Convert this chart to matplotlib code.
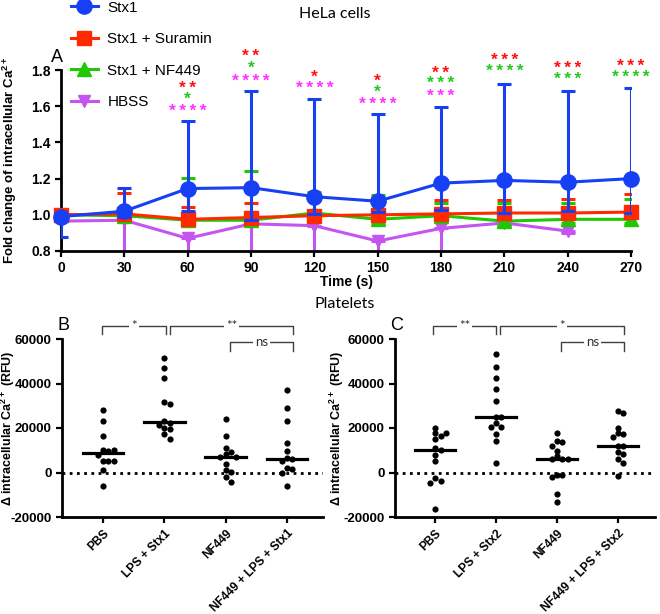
import numpy as np
import matplotlib
matplotlib.use('Agg')
import matplotlib.pyplot as plt

plt.rcParams['font.family'] = ['Liberation Sans', 'DejaVu Sans']
plt.rcParams['mathtext.fontset'] = 'custom'
plt.rcParams['mathtext.rm'] = 'Liberation Sans'
plt.rcParams['mathtext.bf'] = 'Liberation Sans:bold'
plt.rcParams['axes.unicode_minus'] = False

# ---------------- Panel A data (HeLa cells) ----------------
time_s = [0, 30, 60, 90, 120, 150, 180, 210, 240, 270]

stx1_mean = [0.99, 1.02, 1.145, 1.15, 1.10, 1.075, 1.175, 1.19, 1.18, 1.20]
stx1_upper = [1.00, 1.15, 1.52, 1.685, 1.64, 1.555, 1.595, 1.725, 1.685, 1.70]
stx1_lower = [0.88, 0.99, 1.02, 0.97, 1.005, 1.013, 1.027, 1.01, 1.02, 1.01]

sur_mean = [1.00, 1.005, 0.975, 0.985, 0.995, 1.00, 1.005, 1.01, 1.01, 1.015]
sur_upper = [1.02, 1.12, 1.045, 1.065, 1.02, 1.094, 1.081, 1.081, 1.085, 1.117]
sur_lower = [0.98, 0.985, 0.955, 0.965, 0.975, 0.98, 0.985, 0.99, 0.99, 0.995]

nf_mean = [1.00, 0.995, 0.97, 0.97, 1.01, 0.975, 0.995, 0.965, 0.975, 0.975]
nf_upper = [1.02, 1.00, 1.205, 1.24, 1.125, 1.11, 1.063, 1.067, 1.063, 1.086]
nf_lower = [0.98, 0.975, 0.95, 0.95, 0.99, 0.955, 0.975, 0.945, 0.955, 0.955]

hbss_mean = [0.965, 0.97, 0.87, 0.95, 0.94, 0.855, 0.925, 0.955, 0.91, np.nan]
hbss_upper = [0.965, 0.97, 0.87, 0.95, 0.94, 0.855, 0.925, 0.955, 0.91, np.nan]
hbss_lower = [0.70, 0.70, 0.70, 0.70, 0.70, 0.70, 0.70, 0.94, 0.90, np.nan]

# significance stars: (time, y, number of stars, colour key)
stars = [
    (60, 1.70, 2, 'red'), (60, 1.64, 1, 'green'), (60, 1.568, 4, 'mag'),
    (90, 1.877, 2, 'red'), (90, 1.811, 1, 'green'), (90, 1.739, 4, 'mag'),
    (120, 1.761, 1, 'red'), (120, 1.70, 4, 'mag'),
    (150, 1.739, 1, 'red'), (150, 1.678, 1, 'green'), (150, 1.607, 4, 'mag'),
    (180, 1.783, 2, 'red'), (180, 1.723, 3, 'green'), (180, 1.651, 3, 'mag'),
    (210, 1.85, 3, 'red'), (210, 1.789, 4, 'green'),
    (240, 1.811, 3, 'red'), (240, 1.75, 3, 'green'),
    (270, 1.822, 3, 'red'), (270, 1.756, 4, 'green'),
]

# ---------------- Panel B / C data (platelets) ----------------
groups_b = ['PBS', 'LPS + Stx1', 'NF449', 'NF449 + LPS + Stx1']
b_pbs = [28000, 23300, 16600, 10000, 9500, 10000, 8000, 5300, 5300, 5000, 1300, -6000]
b_lps = [51300, 46800, 42300, 31800, 30800, 23300, 22100, 21400, 19900, 19400, 17200, 14900]
b_nf = [23900, 16400, 11100, 9200, 8300, 7100, 7000, 3800, 1300, 300, -2000, -4300]
b_nflps = [37100, 28800, 23100, 13100, 9800, 6500, 6000, 5300, 2100, 1600, 0, -6200]

groups_c = ['PBS', 'LPS + Stx2', 'NF449', 'NF449 + LPS + Stx2']
c_pbs = [20100, 17600, 17600, 16400, 14900, 10900, 10100, 7900, 5300, -2600, -3700, -4900, -16500]
c_lps = [53300, 47300, 42500, 37500, 32300, 25100, 24800, 22100, 20400, 20300, 17300, 14200, 4400]
c_nf = [17600, 14200, 13600, 12100, 9800, 7300, 6100, 6000, 5900, -1100, -1200, -2200, -9500, -13100]
c_nflps = [27800, 26900, 20100, 17600, 17200, 15800, 12000, 11700, 9000, 8300, 6000, 4400, -1600]

b_sig = [('*', -0.02, 1.03), ('**', 1.10, 3.10)]
c_sig = [('**', -0.04, 1.0), ('*', 1.07, 3.10)]
ns_span = (2.07, 3.10)

blue = '#1740F5'
red = '#FF2A00'
green = '#1FC800'
purple = '#C455EE'
star_cols = {'red': '#FF1010', 'green': '#22C81E', 'mag': '#FF33FF'}

fig = plt.figure(figsize=(6.6, 6.14), dpi=100)
W, H = 660.0, 614.0

# ---------------- Panel A ----------------
axA = fig.add_axes([61 / W, 1 - 251 / H, 570 / W, 181 / H])

series = [
    ('HBSS', hbss_mean, hbss_lower, hbss_upper, purple, 'v', 9, 2),
    ('Stx1 + NF449', nf_mean, nf_lower, nf_upper, green, '^', 10, 3),
    ('Stx1 + Suramin', sur_mean, sur_lower, sur_upper, red, 's', 9.5, 4),
    ('Stx1', stx1_mean, stx1_lower, stx1_upper, blue, 'o', 11, 5),
]
handles = {}
for name, m, lo, up, col, mk, ms, z in series:
    m = np.array(m, dtype=float)
    err = [m - np.array(lo, dtype=float), np.array(up, dtype=float) - m]
    axA.errorbar(time_s, m, yerr=err, fmt='none', ecolor=col, elinewidth=2.2,
                 capsize=5, capthick=2.2, zorder=z)
    ln, = axA.plot(time_s, m, color=col, lw=2.2, marker=mk, ms=ms, zorder=z + 0.5,
                   clip_on=False)
    handles[name] = ln

for t, y, n, c in stars:
    axA.text(t, y, '\u2009'.join(['*'] * n), color=star_cols[c], ha='center',
             va='center', fontsize=12.5, fontweight='bold', clip_on=False)

axA.set_xlim(0, 270)
axA.set_ylim(0.8, 1.8)
axA.set_xticks(time_s)
axA.set_yticks([0.8, 1.0, 1.2, 1.4, 1.6, 1.8])
axA.set_yticklabels(['0.8', '1.0', '1.2', '1.4', '1.6', '1.8'])
axA.set_xlabel('Time (s)', fontsize=10, fontweight='bold', labelpad=0)
axA.set_ylabel(r'Fold change of intracellular Ca$^{\mathbf{2+}}$', fontsize=9.5,
               fontweight='bold')
axA.yaxis.set_label_coords(-0.074, 0.5)

leg_order = ['Stx1', 'Stx1 + Suramin', 'Stx1 + NF449', 'HBSS']
fig.legend([handles[k] for k in leg_order], leg_order, loc='upper left',
           bbox_to_anchor=(60 / W, 1 + 10 / H), frameon=False, fontsize=11,
           labelspacing=1.15, handlelength=1.8, handletextpad=0.6, borderpad=0.2)

fig.text(335 / W, 1 - 14 / H, 'HeLa cells', ha='center', va='center', fontsize=11.5,
         family='Lato')
fig.text(345 / W, 1 - 304 / H, 'Platelets', ha='center', va='center', fontsize=11.5,
         family='Lato')
fig.text(57 / W, 1 - 58 / H, 'A', ha='center', va='center', fontsize=13)


def swarm(ax, xc, vals, diam_px=5.6):
    # simple column scatter: spread points that would overlap sideways
    ax.figure.canvas.draw()
    tr = ax.transData
    placed = []
    xs, ys = [], []
    step = diam_px * 0.95
    for v in sorted(vals, reverse=True):
        px0, py = tr.transform((xc, v))
        k = 0
        while True:
            cands = [0] if k == 0 else [k, -k]
            done = False
            for c in cands:
                px = px0 + c * step
                if all((px - qx) ** 2 + (py - qy) ** 2 >= step ** 2 for qx, qy in placed):
                    placed.append((px, py))
                    done = True
                    break
            if done:
                break
            k += 1
        x, y = tr.inverted().transform(placed[-1])
        xs.append(x)
        ys.append(y)
    return xs, ys


def platelet_panel(ax, groups, data, sig, letter, xl, lab_x):
    ax.set_xlim(*xl)
    ax.set_ylim(-20000, 60000)
    ax.axhline(0, color='black', lw=2, ls=(0, (1, 1.6)), zorder=1)
    for i, vals in enumerate(data):
        xs, ys = swarm(ax, i, vals)
        ax.scatter(xs, ys, s=20, color='black', zorder=3, linewidths=0)
        med = np.median(vals)
        ax.plot([i - 0.33, i + 0.33], [med, med], color='black', lw=2.3, zorder=4)
    ax.set_xticks(range(len(groups)))
    ax.set_xticklabels(groups, rotation=45, ha='right', rotation_mode='anchor',
                       fontsize=8.6, fontweight='bold')
    ax.set_yticks([-20000, 0, 20000, 40000, 60000])
    ax.set_ylabel('\u0394 intracellular Ca$^{\\mathbf{2+}}$ (RFU)', fontsize=9,
                  fontweight='bold')
    ax.yaxis.set_label_coords(lab_x, 0.5)
    # significance brackets
    brackets = [(s, a, b, 66000, 62300) for s, a, b in sig]
    brackets.append(('ns', ns_span[0], ns_span[1], 58600, 54700))
    for s, a, b, ytop, yleg in brackets:
        ax.plot([a, a, b, b], [yleg, ytop, ytop, yleg], color='#404040', lw=1,
                clip_on=False, zorder=5)
        ax.text((a + b) / 2, ytop, s, ha='center', va='center', fontsize=9.5,
                color='#303030', family='Lato', clip_on=False, zorder=6,
                bbox=dict(facecolor='white', edgecolor='none', pad=1.5))
    ax.text(xl[0] + 0.02, 66000, letter, ha='center', va='center', fontsize=13,
            clip_on=False)


axB = fig.add_axes([62 / W, 1 - 517 / H, 261 / W, 178 / H])
axC = fig.add_axes([395 / W, 1 - 517 / H, 260 / W, 178 / H])
platelet_panel(axB, groups_b, [b_pbs, b_lps, b_nf, b_nflps], b_sig, 'B', (-0.67, 3.59), -0.172)
platelet_panel(axC, groups_c, [c_pbs, c_lps, c_nf, c_nflps], c_sig, 'C', (-0.66, 3.61), -0.188)

for ax in (axA, axB, axC):
    ax.spines['top'].set_visible(False)
    ax.spines['right'].set_visible(False)
    ax.spines['left'].set_linewidth(2)
    ax.spines['bottom'].set_linewidth(2)
    ax.tick_params(width=1.6, length=4)
    ax.tick_params(axis='y', labelsize=9.5)
    for lb in ax.get_yticklabels() + ax.get_xticklabels():
        lb.set_fontweight('bold')
axA.tick_params(axis='both', labelsize=10)

fig.savefig('out.png', dpi=100)
